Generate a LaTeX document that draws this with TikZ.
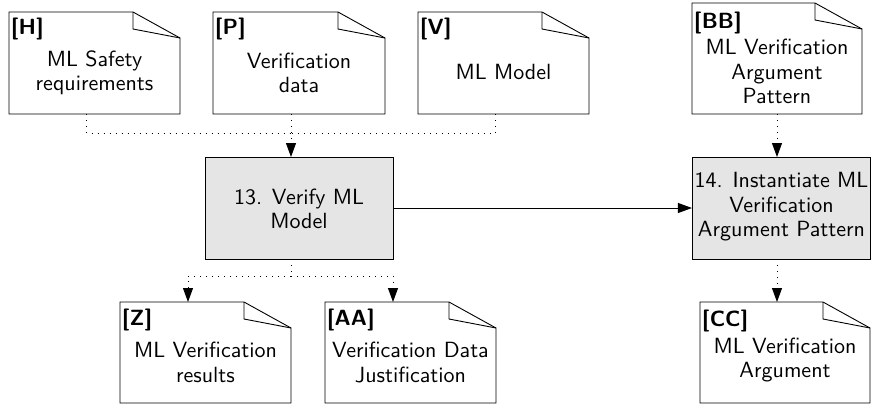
\documentclass[tikz,border=0pt]{standalone}
\usepackage{fontspec}
\setsansfont{lmsans10-regular.otf}[BoldFont=lmsans10-bold.otf]
\usetikzlibrary{arrows.meta,calc}

% outline of a work product: a sheet with a folded top-right corner
\newcommand\docoutline[1]{%
  \draw[sheetline] (#1.north west) -- ([xshift=-47pt]#1.north east)
    -- ([yshift=-26pt]#1.north east) -- (#1.south east) -- (#1.south west) -- cycle;
  \draw[sheetline] ([xshift=-47pt]#1.north east)
    -- ([xshift=-47pt,yshift=-17pt]#1.north east) -- ([yshift=-26pt]#1.north east);}

\begin{document}
\begin{tikzpicture}[x=1pt,y=-1pt,
  every node/.style={font=\sffamily\fontsize{22}{24.5}\selectfont},
  sheetline/.style={line width=0.9pt, line join=miter},
  artefact/.style={inner sep=0pt, outer sep=0pt, minimum height=102pt},
  activity/.style={draw, fill=gray!20, line width=0.9pt, inner sep=0pt,
    outer sep=0pt, minimum height=102pt},
  docbody/.style={align=center, inner sep=0pt},
  tag/.style={font=\sffamily\bfseries\fontsize{22}{24.5}\selectfont,
    inner sep=0pt, anchor=north west},
  tip/.style={-{Triangle[length=14pt,width=10pt]}},
  flow/.style={line width=0.9pt, tip},
  trace/.style={line width=0.9pt, dash pattern=on 1pt off 5pt}]

\useasboundingbox (0,0) rectangle (871,405);

% work products (inputs, outputs)
\node[artefact, minimum width=171pt] (H) at (94.5,63) {};
\node[artefact, minimum width=172pt] (P) at (299,63) {};
\node[artefact, minimum width=171pt] (V) at (503.5,63) {};
\node[artefact, minimum width=170pt, minimum height=111pt] (BB) at (777,58.5) {};
\node[artefact, minimum width=171pt, minimum height=101pt] (Z) at (205.5,352.5) {};
\node[artefact, minimum width=171pt, minimum height=101pt] (AA) at (410.5,352.5) {};
\node[artefact, minimum width=170pt, minimum height=101pt] (CC) at (785,352.5) {};

\foreach \d in {H,P,V,BB,Z,AA,CC} {\docoutline{\d}}

% identifiers of the work products
\node[tag] (tH) at ([shift={(2pt,-6pt)}]H.north west) {[H]};
\node[tag] (tP) at ([shift={(2pt,-6pt)}]P.north west) {[P]};
\node[tag] (tV) at ([shift={(2pt,-6pt)}]V.north west) {[V]};
\node[tag] (tBB) at ([shift={(2pt,-9pt)}]BB.north west) {[BB]};
\node[tag] (tZ) at ([shift={(2pt,-7pt)}]Z.north west) {[Z]};
\node[tag] (tAA) at ([shift={(2pt,-7pt)}]AA.north west) {[AA]};
\node[tag] (tCC) at ([shift={(2pt,-8pt)}]CC.north west) {[CC]};

% titles of the work products
\node[docbody] (bH) at (94.5,73) {ML Safety\\requirements};
\node[docbody] (bP) at (299,73) {Verification\\data};
\node[docbody] (bV) at (503.5,72) {ML Model};
\node[docbody] (bBB) at (777,71.5) {ML Verification\\Argument\\Pattern};
\node[docbody] (bZ) at (205.5,362.5) {ML Verification\\results};
\node[docbody] (bAA) at (410.5,362.5) {Verification Data\\Justification};
\node[docbody] (bCC) at (785,360) {ML Verification\\Argument};

% activities
\node[activity, minimum width=188pt] (act13) at (299,208) {};
\node[docbody] (b13) at (299,209) {13. Verify ML\\Model};
\node[activity, minimum width=178.5pt] (act14) at (781.2,208) {};
\node[docbody] (b14) at (781.5,207) {14. Instantiate ML\\Verification\\Argument Pattern};

% inputs of activity 13
\coordinate (merge) at (291,133);
\draw[trace] ([xshift=-8pt]H.south) |- (merge);
\draw[trace] ([xshift=-8pt]V.south) |- (merge);
\draw[trace, tip] ([xshift=-8pt]P.south) -- ([xshift=-8pt]act13.north);

% outputs of activity 13
\coordinate (split) at (291,276);
\draw[trace] ([xshift=-8pt]act13.south) -- (split);
\draw[trace, tip] (split) -| ([xshift=-17.5pt]Z.north);
\draw[trace, tip] (split) -| ([xshift=-17.5pt]AA.north);

% activity 14
\draw[flow] (act13.east) -- (act14.west);
\draw[trace, tip] (BB.south) -- (BB.south |- act14.north);
\draw[trace, tip] (BB.south |- act14.south) -- (BB.south |- CC.north);

\end{tikzpicture}
\end{document}
